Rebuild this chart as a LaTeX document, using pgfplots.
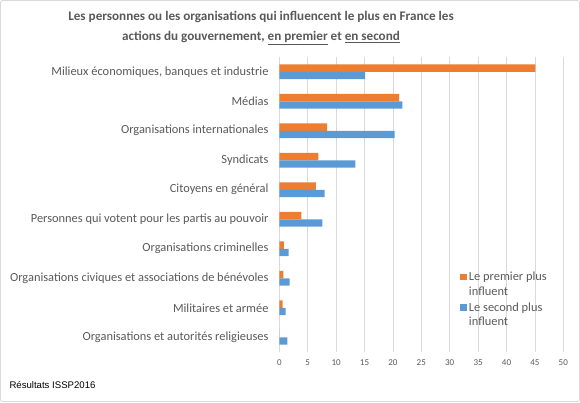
\documentclass[border=0pt]{standalone}
\usepackage{pgfplots}
\pgfplotsset{compat=1.18}
\usepackage{fontspec}
\setmainfont{Carlito}
\newfontfamily\arialfont{Liberation Sans}
\definecolor{txtgray}{HTML}{595959}
\definecolor{orangeB}{HTML}{ED7D31}
\definecolor{blueB}{HTML}{5B9BD5}
\definecolor{gridc}{HTML}{D9D9D9}
\begin{document}
\begin{tikzpicture}
\draw[gridc, line width=0.8pt, rounded corners=2pt] (0.5pt,0.5pt) rectangle (579.5pt,401.5pt);
\node[font=\bfseries\fontsize{13.15}{19.5}\selectfont, text=txtgray, align=center] at (261pt,402pt-28pt)
 {Les personnes ou les organisations qui influencent le plus en France les\\
  actions du gouvernement, \underline{en premier} et \underline{en second}};
\node[font=\arialfont\fontsize{9.6}{11}\selectfont, anchor=west] at (6pt,402pt-385pt) {Résultats ISSP2016};
\begin{axis}[
  at={(279.3pt,50pt)}, anchor=south west,
  scale only axis, width=284pt, height=295pt,
  xbar=0pt, bar width=7.4pt,
  xmin=0, xmax=50, xtick={0,5,...,50},
  ymin=-0.5, ymax=9.5, y dir=reverse,
  ytick={0,...,9},
  yticklabels={{Milieux économiques, banques et industrie}, Médias, Organisations internationales, Syndicats, Citoyens en général, Personnes qui votent pour les partis au pouvoir, Organisations criminelles, Organisations civiques et associations de bénévoles, Militaires et armée, Organisations et autorités religieuses},
  axis line style={draw=none},
  tick style={draw=none},
  xmajorgrids, major grid style={gridc, line width=0.8pt},
  /pgf/number format/assume math mode=true,
  yticklabel style={font=\fontsize{12.4}{14}\selectfont, text=txtgray, xshift=-3pt},
  xticklabel style={font=\fontsize{9}{10}\selectfont, text=txtgray, yshift=-4pt},
  legend style={draw=none, fill=none, at={(0.626,0.285)}, anchor=north west,
    font=\fontsize{12.4}{14.5}\selectfont, text=txtgray, cells={align=left},
    row sep=2pt},
  legend cell align=left,
  legend image code/.code={\fill[#1] (0pt,4pt) rectangle (6.7pt,10.7pt);},
]
\addplot[fill=orangeB, draw=none, bar shift=3.7pt] coordinates {
 (45.1,0) (21.1,1) (8.4,2) (6.9,3) (6.45,4) (3.9,5) (0.8,6) (0.7,7) (0.6,8) (0,9)};
\addplot[fill=blueB, draw=none, bar shift=-3.7pt] coordinates {
 (15.1,0) (21.65,1) (20.3,2) (13.4,3) (8.0,4) (7.6,5) (1.65,6) (1.8,7) (1.1,8) (1.4,9)};
\legend{Le premier plus\\influent, Le second plus\\influent}
\end{axis}
\useasboundingbox (0,0) rectangle (580pt,402pt);
\end{tikzpicture}
\end{document}
